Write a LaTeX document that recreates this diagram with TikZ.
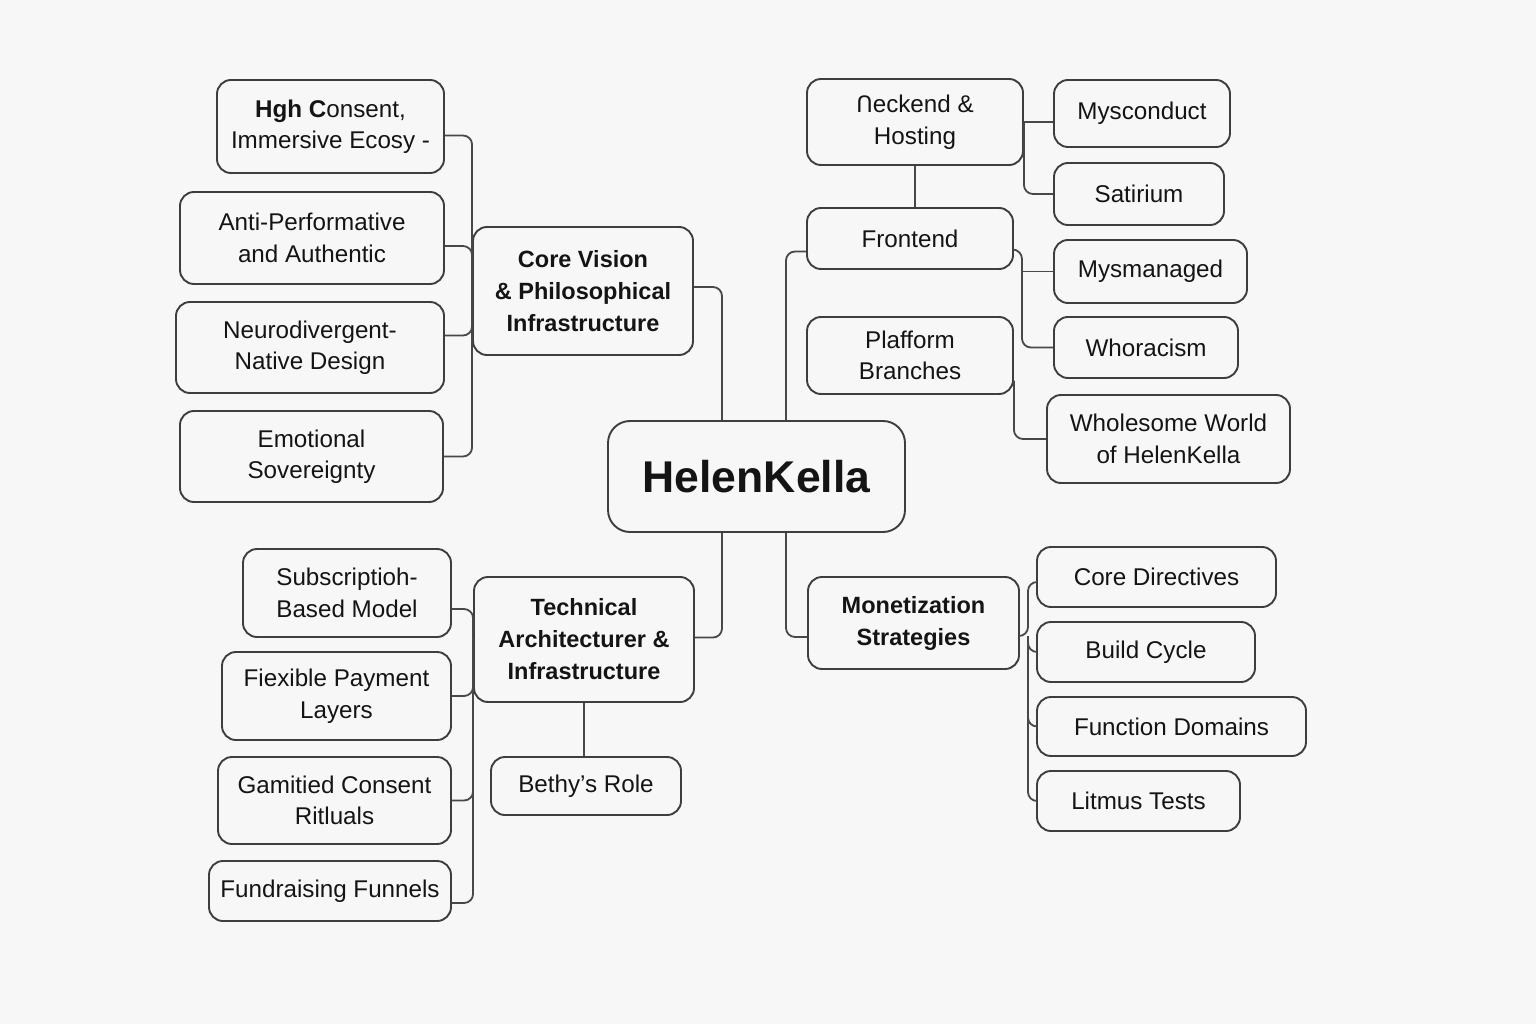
\documentclass[tikz,border=0pt]{standalone}
\usepackage{fontspec}
\setmainfont{Liberation Sans}
\newfontfamily\dejavu{DejaVu Sans}
\usetikzlibrary{calc}
\definecolor{bgc}{RGB}{247,247,247}
\definecolor{boxc}{RGB}{62,62,62}
\definecolor{linec}{RGB}{72,72,72}
\definecolor{txtc}{RGB}{20,20,20}
\begin{document}
\begin{tikzpicture}[x=1pt,y=-1pt,
  box/.style={draw=boxc, line width=1.9pt, rounded corners=14pt, fill=bgc, align=center,
    inner sep=0pt, text=txtc, font=\fontsize{24.2}{31.5}\selectfont},
  bx/.style n args={2}{minimum width=#1pt, minimum height=#2pt},
  bold/.style={font=\fontsize{23.5}{32}\selectfont\bfseries},
  conn/.style={draw=linec, line width=1.8pt, rounded corners=9pt}]
\fill[bgc] (0,0) rectangle (1536,1024);
\useasboundingbox (0,0) rectangle (1536,1024);

% centre
\node[box, bx={297}{111}, rounded corners=22pt, font=\fontsize{44.5}{50}\selectfont\bfseries] (helen) at (756.5,476.5) {HelenKella};

% core vision branch
\node[box, bold, bx={220}{128}] (core) at (583,291) {Core Vision\\\& Philosophical\\Infrastructure};
\node[box, bx={227}{93}] (hgh) at (330.5,126.5) {\textbf{Hgh C}onsent,\\Immersive Ecosy -};
\node[box, bx={264}{92}] (anti) at (312,238) {Anti-Performative\\and Authentic};
\node[box, bx={268}{91}] (neuro) at (310,347.5) {Neurodivergent-\\Native Design};
\node[box, bx={263}{91}] (emot) at (311.5,456.5) {Emotional\\Sovereignty};

% upper right branch
\node[box, bx={216}{86}] (neck) at (915,122) {{\dejavu\fontsize{22.5}{31.5}\selectfont Ո}eckend \&\\Hosting};
\node[box, bx={176}{67}] (mys) at (1142,113.5) {Mysconduct};
\node[box, bx={170}{62}] (sat) at (1139,194) {Satirium};
\node[box, bx={206}{61}] (front) at (910,238.5) {Frontend};
\node[box, bx={193}{63}] (mysm) at (1150.5,271.5) {Mysmanaged};
\node[box, bx={184}{61}] (whor) at (1146,347.5) {Whoracism};
\node[box, bx={206}{77}] (plaf) at (910,355.5) {Plafform\\Branches};
\node[box, bx={243}{88}] (whole) at (1168.5,439) {Wholesome World\\of HelenKella};

% technical branch
\node[box, bold, bx={220}{125}] (tech) at (584,639.5) {Technical\\Architecturer \&\\Infrastructure};
\node[box, bx={208}{88}] (sub) at (347,593) {Subscriptioh-\\Based Model};
\node[box, bx={229}{88}] (fiex) at (336.5,696) {Fiexible Payment\\Layers};
\node[box, bx={233}{87}] (gam) at (334.5,800.5) {Gamitied Consent\\Ritluals};
\node[box, bx={242}{60}] (fund) at (330,891) {Fundraising Funnels};
\node[box, bx={190}{58}] (bethy) at (586,786) {Bethy’s Role};

% monetization branch
\node[box, bold, bx={211}{92}] (monet) at (913.5,623) {Monetization\\Strategies};
\node[box, bx={239}{60}] (cdir) at (1156.5,577) {Core Directives};
\node[box, bx={218}{60}] (build) at (1146,652) {Build Cycle};
\node[box, bx={269}{59}] (func) at (1171.5,726.5) {Function Domains};
\node[box, bx={203}{60}] (litmus) at (1138.5,801) {Litmus Tests};

% connectors to centre
\draw[conn] ($(core.east)+(0,-4)$) -| ($(helen.north)+(-34.5,0)$);
\draw[conn] ($(front.west)+(0,13)$) -| ($(helen.north)+(29.5,0)$);
\draw[conn] ($(tech.east)+(0,-2)$) -| ($(helen.south)+(-34.5,0)$);
\draw[conn] ($(helen.south)+(29.5,0)$) |- ($(monet.west)+(0,14)$);

% core vision children
\draw[conn] ($(hgh.east)+(0,9)$) -| (core.west);
\draw[conn] ($(anti.east)+(0,8)$) -| (core.west);
\draw[conn] ($(neuro.east)+(0,-12)$) -| (core.west);
\draw[conn] (emot.east) -| (core.west);

% upper right
\draw[conn] (neck.south) -- (neck.south |- front.north);
\draw[conn] (neck.east) -- (neck.east -| mys.west);
\draw[conn] (neck.east) |- (sat.west);
\coordinate (fb) at (1022,250);
\draw[conn] ($(front.east)+(0,11)$) -- (fb) |- (whor.west);
\draw[conn] (fb |- mysm.west) -- (mysm.west);
\draw[conn] ($(plaf.east)+(0,25)$) |- (whole.west);

% technical children
\draw[conn] ($(sub.east)+(0,16)$) -| (tech.west);
\draw[conn] (fiex.east) -| (tech.west);
\draw[conn] (gam.east) -| (tech.west);
\draw[conn] ($(fund.east)+(0,12)$) -| (tech.west);
\draw[conn] (tech.south) -- (tech.south |- bethy.north);

% monetization children
\coordinate (mb) at (1028,636);
\draw[conn] ($(monet.east)+(0,13)$) -- (mb) |- ($(cdir.west)+(0,5)$);
\draw[conn] (mb) |- (build.west);
\draw[conn] (mb) |- (func.west);
\draw[conn] (mb) |- (litmus.west);
\end{tikzpicture}
\end{document}
